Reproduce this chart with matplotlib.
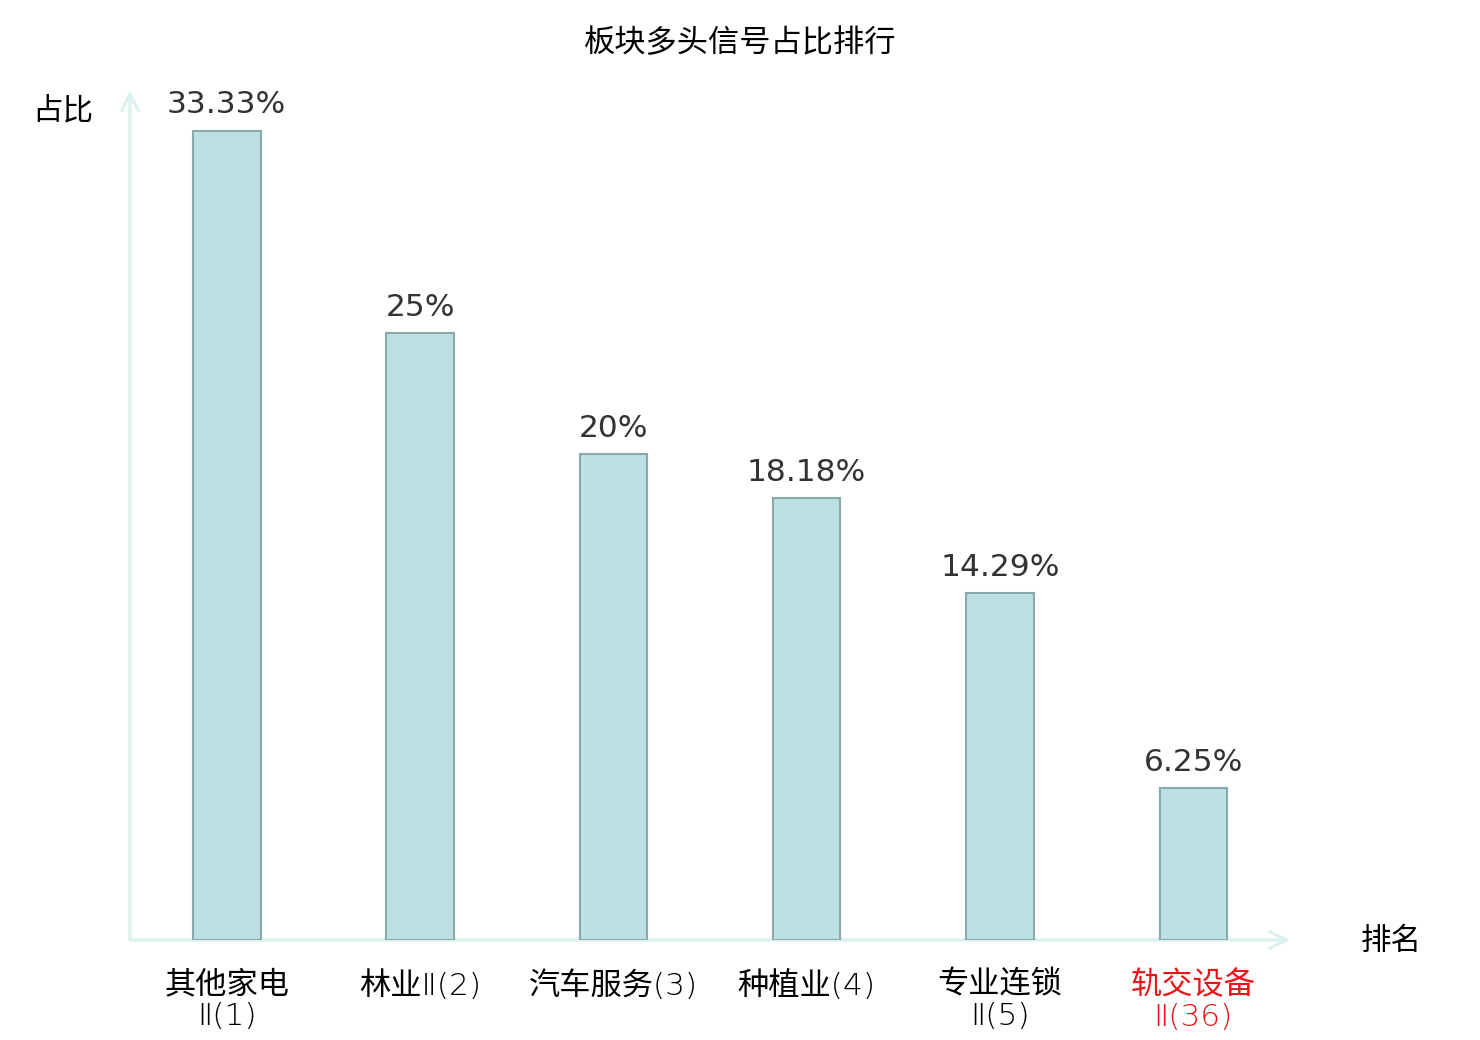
import matplotlib.pyplot as plt

plt.rcParams['font.family'] = ['Noto Sans CJK SC', 'DejaVu Sans']

categories = ["其他家电\nⅡ(1)", "林业Ⅱ(2)", "汽车服务(3)", "种植业(4)", "专业连锁\nⅡ(5)", "轨交设备\nⅡ(36)"]
values = [33.33, 25, 20, 18.18, 14.29, 6.25]
value_labels = ["33.33%", "25%", "20%", "18.18%", "14.29%", "6.25%"]
highlight = 5  # 当前板块, 红色标出

fig = plt.figure(figsize=(14.8, 10.4), dpi=100)
ax = fig.add_axes([130 / 1480, 100 / 1040, 1160 / 1480, 850 / 1040])

x = list(range(len(categories)))
ax.bar(x, values, width=0.35, color="#bce0e3", edgecolor="#8aa9aa", linewidth=1.5, zorder=3)

for xi, v, lab in zip(x, values, value_labels):
    ax.annotate(lab, (xi, v), xytext=(0, 8), textcoords="offset points",
                ha="center", va="bottom", fontsize=22.5, color="#333333",
                family="DejaVu Sans")

ax.set_xlim(-0.5, 5.5)
ax.set_ylim(0, 35)
for s in ax.spines.values():
    s.set_visible(False)
ax.set_yticks([])
ax.set_xticks(x)
ax.set_xticklabels(categories, fontsize=22.5, linespacing=1.12,
                   family=['DejaVu Sans', 'Noto Sans CJK SC'], fontweight=200)
ax.tick_params(axis="x", length=0, pad=22)
ax.get_xticklabels()[highlight].set_color("#e8151b")

# 坐标轴箭头
axis_col = "#ddf1ef"
ax.annotate("", xy=(1, 0), xytext=(0, 0), xycoords="axes fraction",
            arrowprops=dict(arrowstyle="->", color=axis_col, lw=2.5,
                            mutation_scale=30, shrinkA=0, shrinkB=0), zorder=1)
ax.annotate("", xy=(0, 1), xytext=(0, 0), xycoords="axes fraction",
            arrowprops=dict(arrowstyle="->", color=axis_col, lw=2.5,
                            mutation_scale=30, shrinkA=0, shrinkB=0), zorder=1)

fig.text(740 / 1480, 1 - 43 / 1040, "板块多头信号占比排行", ha="center", va="center", fontsize=22.5)
fig.text(63 / 1480, 1 - 111 / 1040, "占比", ha="center", va="center", fontsize=22)
fig.text(1391 / 1480, 1 - 941 / 1040, "排名", ha="center", va="center", fontsize=22)

fig.savefig("out.png", dpi=100)
